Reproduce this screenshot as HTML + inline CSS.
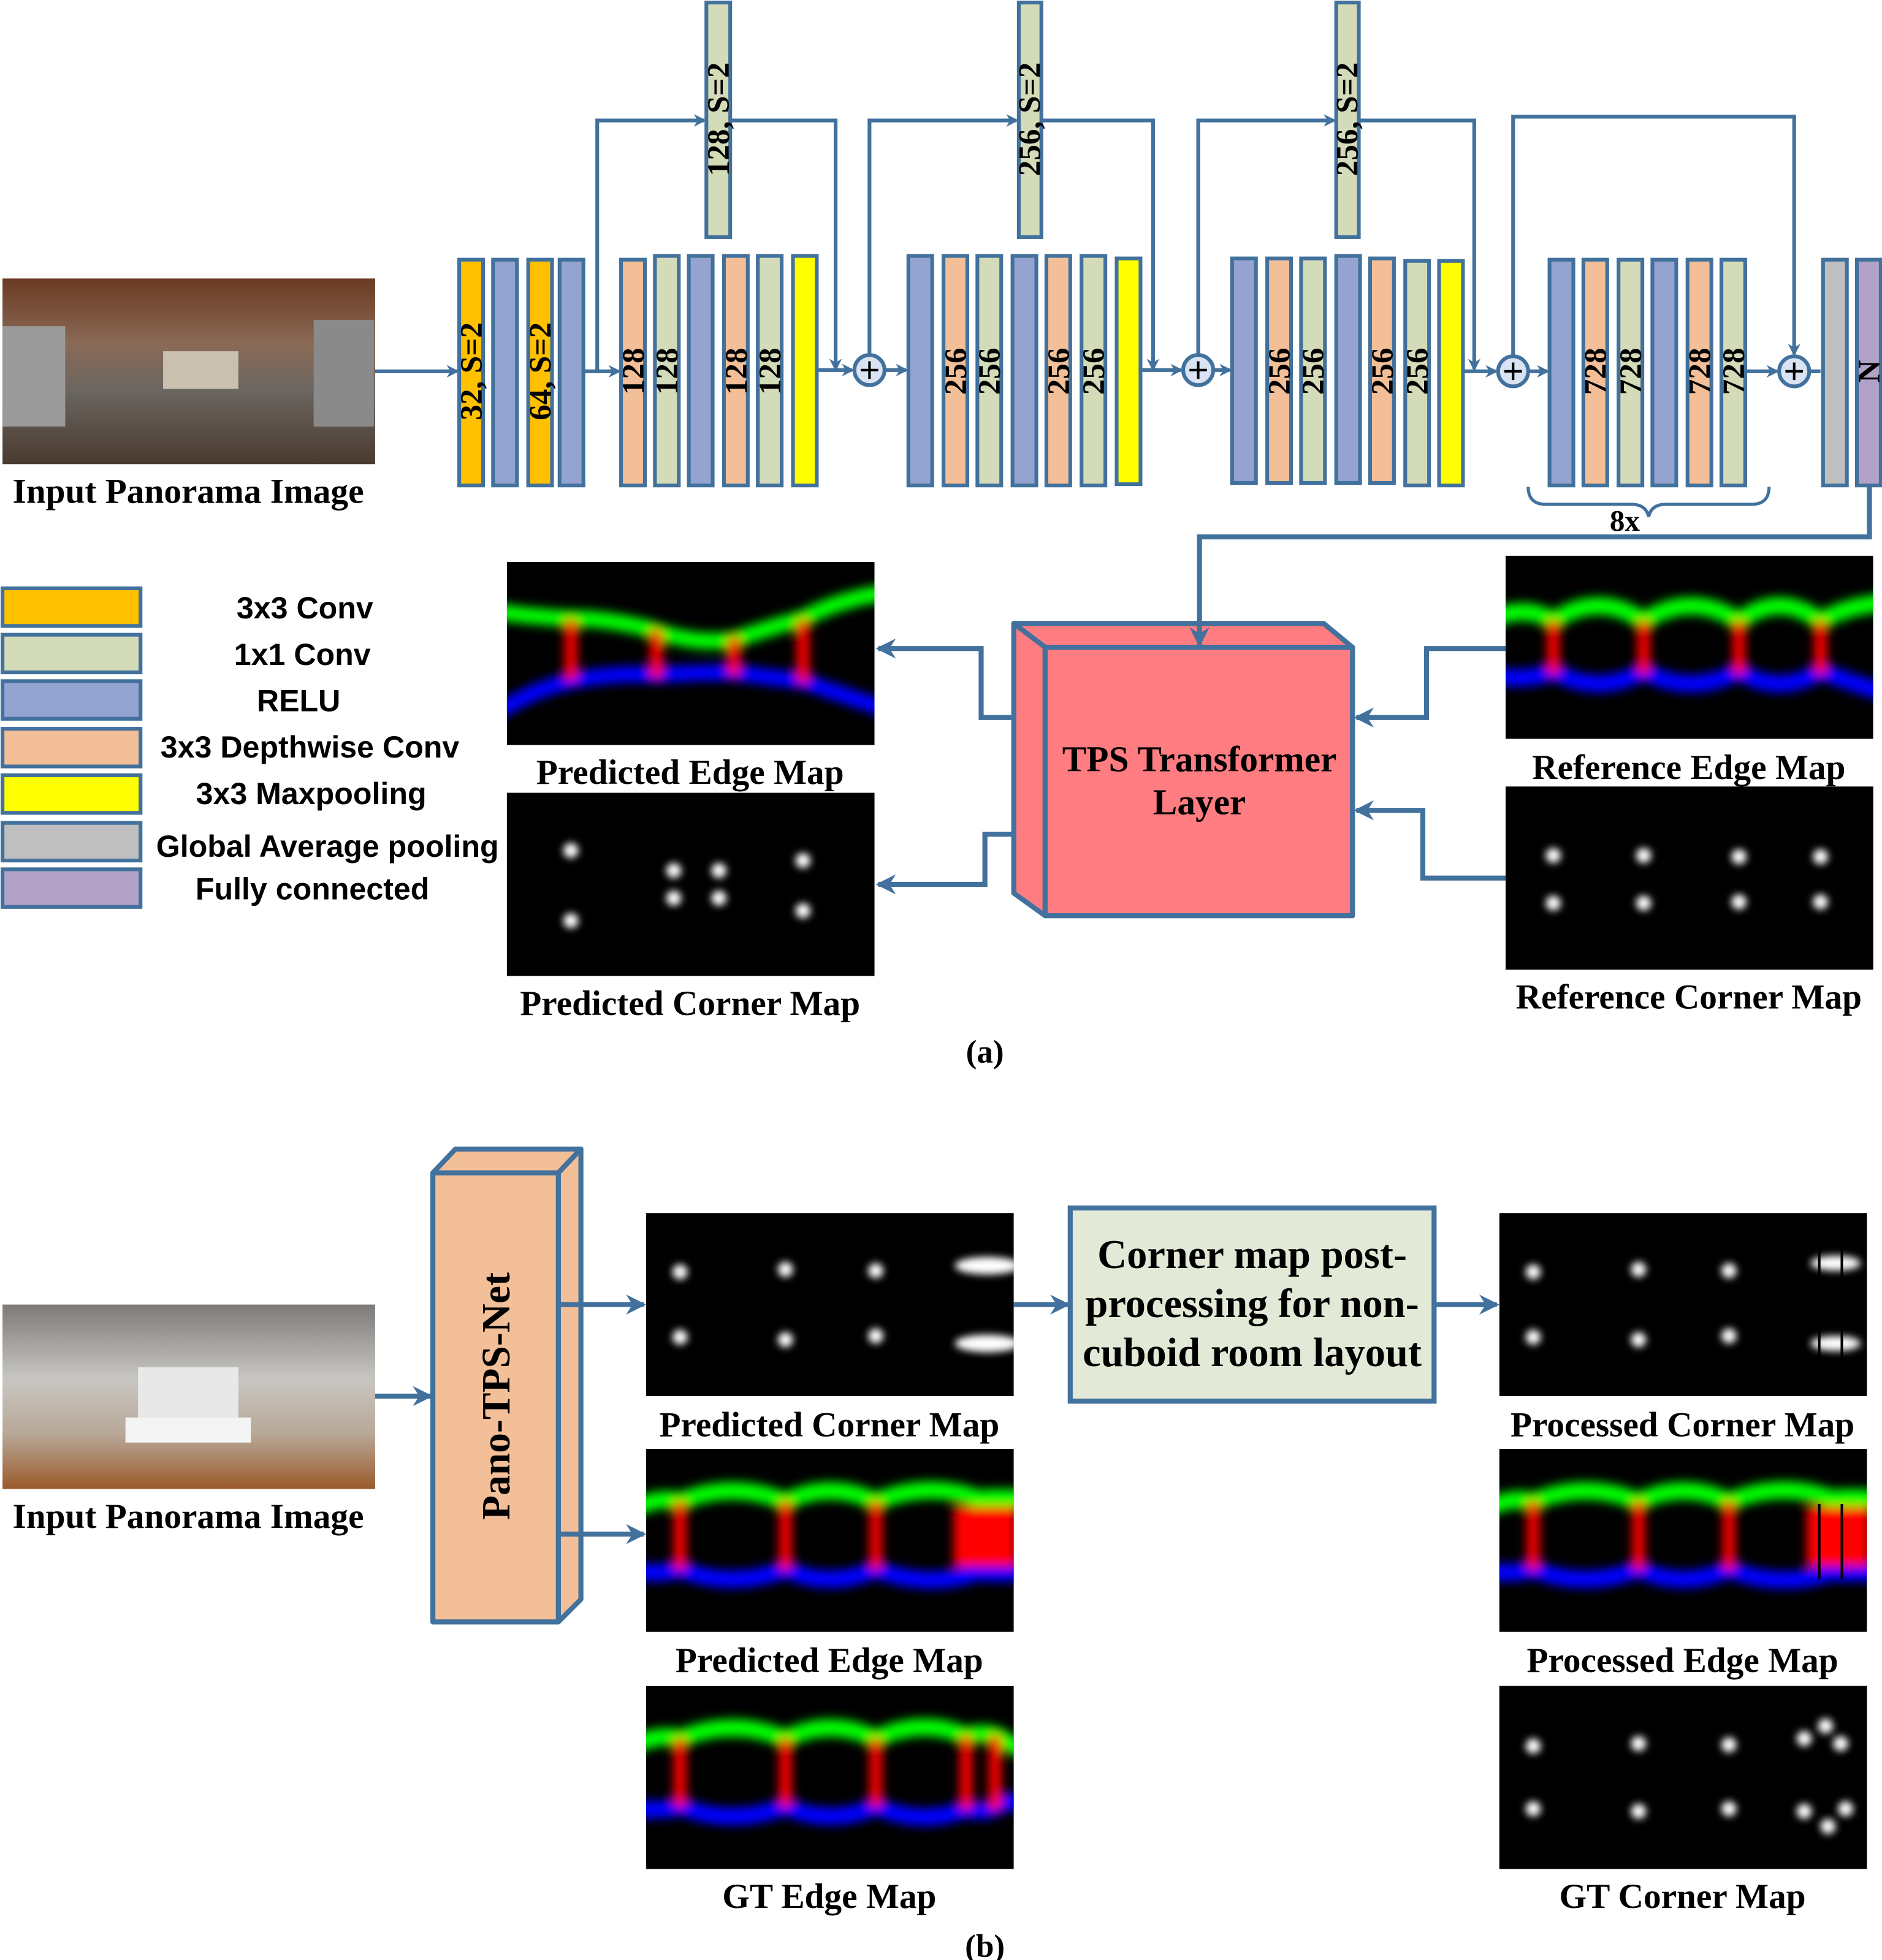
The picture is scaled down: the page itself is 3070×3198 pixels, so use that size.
<!DOCTYPE html>
<html><head><meta charset="utf-8">
<style>
html,body{margin:0;padding:0;background:#fff;}
svg{display:block;}
.st{font-family:"Liberation Serif",serif;font-weight:bold;}
.ss{font-family:"Liberation Sans",sans-serif;font-weight:bold;}
</style></head><body>
<svg width="3070" height="3198" viewBox="0 0 1500 1562.5" xmlns="http://www.w3.org/2000/svg">
<defs>
<filter id="b4" x="-20%" y="-50%" width="140%" height="200%"><feGaussianBlur stdDeviation="4"/></filter>
<filter id="b3" x="-100%" y="-100%" width="300%" height="300%"><feGaussianBlur stdDeviation="3"/></filter>
<clipPath id="ic"><rect width="293" height="146"/></clipPath>
<marker id="ah" markerWidth="10" markerHeight="10" refX="8" refY="5" orient="auto" markerUnits="userSpaceOnUse"><path d="M0,0 L10,5 L0,10 L3,5 Z" fill="#41719C"/></marker>
<marker id="ah2" markerWidth="16" markerHeight="16" refX="14" refY="8" orient="auto" markerUnits="userSpaceOnUse"><path d="M0,0 L16,8 L0,16 L5,8 Z" fill="#41719C"/></marker>
<linearGradient id="pan1" x1="0" y1="0" x2="0" y2="1"><stop offset="0" stop-color="#6a3a22"/><stop offset="0.35" stop-color="#8a6a55"/><stop offset="0.6" stop-color="#6b6660"/><stop offset="1" stop-color="#4a3a30"/></linearGradient>
<linearGradient id="pan2" x1="0" y1="0" x2="0" y2="1"><stop offset="0" stop-color="#7d7a78"/><stop offset="0.4" stop-color="#c8c6c2"/><stop offset="0.7" stop-color="#b8a898"/><stop offset="1" stop-color="#9a5a2a"/></linearGradient>
</defs>

<!-- ===== (a) ===== -->
<rect x="2" y="222" width="297" height="148" fill="url(#pan1)"/>
<rect x="2" y="260" width="50" height="80" fill="#9a9a9a"/>
<rect x="250" y="255" width="48" height="85" fill="#8a8a8a"/>
<rect x="130" y="280" width="60" height="30" fill="#c9c0b0"/>
<text class="st" x="150" y="401" font-size="28" text-anchor="middle">Input Panorama Image</text>

<g stroke="#41719C" stroke-width="3" fill="none">
<line x1="299" y1="296" x2="364" y2="296" marker-end="url(#ah)"/>
<line x1="466" y1="296" x2="493" y2="296" marker-end="url(#ah)"/>
<polyline points="476,296 476,96 561,96" marker-end="url(#ah)"/>
<polyline points="582,96 666,96 666,294" marker-end="url(#ah)"/>
<line x1="652" y1="295" x2="679" y2="295" marker-end="url(#ah)"/>
<line x1="706" y1="295" x2="722" y2="295" marker-end="url(#ah)"/>
<polyline points="693,283 693,96 810,96" marker-end="url(#ah)"/>
<polyline points="830,96 919,96 919,294" marker-end="url(#ah)"/>
<line x1="908" y1="295" x2="941" y2="295" marker-end="url(#ah)"/>
<line x1="968" y1="295" x2="980" y2="295" marker-end="url(#ah)"/>
<polyline points="955,283 955,96 1063,96" marker-end="url(#ah)"/>
<polyline points="1083,96 1175,96 1175,294" marker-end="url(#ah)"/>
<line x1="1166" y1="296" x2="1192" y2="296" marker-end="url(#ah)"/>
<line x1="1219" y1="296" x2="1233" y2="296" marker-end="url(#ah)"/>
<polyline points="1206,284 1206,93 1430,93 1430,282" marker-end="url(#ah)"/>
<line x1="1391" y1="296" x2="1416" y2="296" marker-end="url(#ah)"/>
<line x1="1443" y1="296" x2="1451" y2="296"/>
</g>

<g stroke="#41719C" stroke-width="3">
<rect x="366" y="207" width="19" height="180" fill="#FFC000"/>
<rect x="393" y="207" width="19" height="180" fill="#94A3D0"/>
<rect x="421" y="207" width="19" height="180" fill="#FFC000"/>
<rect x="446" y="207" width="19" height="180" fill="#94A3D0"/>
<rect x="495" y="207" width="19" height="180" fill="#F2BF98"/>
<rect x="522" y="204" width="19" height="183" fill="#D3DBB8"/>
<rect x="549" y="204" width="19" height="183" fill="#94A3D0"/>
<rect x="577" y="204" width="19" height="183" fill="#F2BF98"/>
<rect x="604" y="204" width="19" height="183" fill="#D3DBB8"/>
<rect x="632" y="204" width="19" height="183" fill="#FFFF00"/>
<rect x="563" y="2" width="19" height="187" fill="#D3DBB8"/>
<rect x="724" y="204" width="19" height="183" fill="#94A3D0"/>
<rect x="752" y="204" width="19" height="183" fill="#F2BF98"/>
<rect x="779" y="204" width="19" height="183" fill="#D3DBB8"/>
<rect x="807" y="204" width="19" height="183" fill="#94A3D0"/>
<rect x="834" y="204" width="19" height="183" fill="#F2BF98"/>
<rect x="862" y="204" width="19" height="183" fill="#D3DBB8"/>
<rect x="890" y="206" width="19" height="180" fill="#FFFF00"/>
<rect x="812" y="2" width="18" height="187" fill="#D3DBB8"/>
<rect x="982" y="206" width="19" height="179" fill="#94A3D0"/>
<rect x="1010" y="206" width="19" height="179" fill="#F2BF98"/>
<rect x="1037" y="206" width="19" height="179" fill="#D3DBB8"/>
<rect x="1065" y="204" width="19" height="181" fill="#94A3D0"/>
<rect x="1092" y="206" width="19" height="179" fill="#F2BF98"/>
<rect x="1120" y="208" width="19" height="179" fill="#D3DBB8"/>
<rect x="1147" y="208" width="19" height="179" fill="#FFFF00"/>
<rect x="1065" y="2" width="18" height="187" fill="#D3DBB8"/>
<rect x="1235" y="207" width="19" height="180" fill="#94A3D0"/>
<rect x="1262" y="207" width="19" height="180" fill="#F2BF98"/>
<rect x="1290" y="207" width="19" height="180" fill="#D3DBB8"/>
<rect x="1317" y="207" width="19" height="180" fill="#94A3D0"/>
<rect x="1345" y="207" width="19" height="180" fill="#F2BF98"/>
<rect x="1372" y="207" width="19" height="180" fill="#D3DBB8"/>
<rect x="1453" y="207" width="19" height="180" fill="#BFBFBF"/>
<rect x="1480" y="207" width="19" height="180" fill="#B3A2C7"/>
</g>
<g stroke="#41719C" stroke-width="3" fill="#DAE3F3">
<circle cx="693" cy="295" r="12"/><circle cx="955" cy="295" r="12"/>
<circle cx="1206" cy="296" r="12"/><circle cx="1430" cy="296" r="12"/>
</g>
<g stroke="#000" stroke-width="2">
<path d="M686,295h14M693,288v14"/><path d="M948,295h14M955,288v14"/>
<path d="M1199,296h14M1206,289v14"/><path d="M1423,296h14M1430,289v14"/>
</g>

<g class="st" font-size="25" text-anchor="middle">
<text transform="translate(384,296) rotate(-90)">32, S=2</text>
<text transform="translate(439,296) rotate(-90)">64, S=2</text>
<text transform="translate(581,95) rotate(-90)">128, S=2</text>
<text transform="translate(829,95) rotate(-90)">256, S=2</text>
<text transform="translate(1082,95) rotate(-90)">256, S=2</text>
<text transform="translate(513,296) rotate(-90)">128</text>
<text transform="translate(540,296) rotate(-90)">128</text>
<text transform="translate(595,296) rotate(-90)">128</text>
<text transform="translate(622,296) rotate(-90)">128</text>
<text transform="translate(770,296) rotate(-90)">256</text>
<text transform="translate(797,296) rotate(-90)">256</text>
<text transform="translate(852,296) rotate(-90)">256</text>
<text transform="translate(880,296) rotate(-90)">256</text>
<text transform="translate(1028,296) rotate(-90)">256</text>
<text transform="translate(1055,296) rotate(-90)">256</text>
<text transform="translate(1110,296) rotate(-90)">256</text>
<text transform="translate(1138,296) rotate(-90)">256</text>
<text transform="translate(1280,296) rotate(-90)">728</text>
<text transform="translate(1308,296) rotate(-90)">728</text>
<text transform="translate(1363,296) rotate(-90)">728</text>
<text transform="translate(1390,296) rotate(-90)">728</text>
<text transform="translate(1498,296) rotate(-90)">N</text>
</g>
<path d="M1218,388 Q1218,402 1232,402 L1300,402 Q1312,402 1314,412 Q1316,402 1328,402 L1396,402 Q1410,402 1410,388" stroke="#41719C" stroke-width="2.5" fill="none"/>
<text class="st" x="1295" y="423" font-size="24" text-anchor="middle">8x</text>

<g stroke="#41719C" stroke-width="3">
<rect x="2" y="469" width="110" height="30" fill="#FFC000"/>
<rect x="2" y="506" width="110" height="30" fill="#D3DBB8"/>
<rect x="2" y="543" width="110" height="30" fill="#94A3D0"/>
<rect x="2" y="581" width="110" height="30" fill="#F2BF98"/>
<rect x="2" y="618" width="110" height="30" fill="#FFFF00"/>
<rect x="2" y="656" width="110" height="30" fill="#BFBFBF"/>
<rect x="2" y="693" width="110" height="30" fill="#B3A2C7"/>
</g>
<g class="ss" font-size="24.5" text-anchor="middle">
<text x="243" y="493">3x3 Conv</text>
<text x="241" y="530">1x1 Conv</text>
<text x="238" y="567">RELU</text>
<text x="247" y="604">3x3 Depthwise Conv</text>
<text x="248" y="641">3x3 Maxpooling</text>
<text x="261" y="683">Global Average pooling</text>
<text x="249" y="717">Fully connected</text>
</g>

<g transform="translate(404,448)" clip-path="url(#ic)">
<rect width="293" height="146" fill="#000"/>
<g filter="url(#b4)" fill="none" stroke-linecap="round">
<path d="M-5,40 Q25,44 51,45 Q85,45 119,55 Q150,66 181,62 Q210,52 236,45 Q265,30 298,25" stroke="#00ff00" stroke-width="13"/>
<path d="M-5,118 Q25,100 51,95 Q85,88 119,90 Q150,88 181,88 Q210,92 236,95 Q265,105 298,116" stroke="#0000ff" stroke-width="13"/>
<path d="M51,50V90M119,58V88M181,64V86M236,50V92" stroke="#ff0000" stroke-width="10"/>
</g></g>
<text class="st" x="550" y="625" font-size="28" text-anchor="middle">Predicted Edge Map</text>

<g transform="translate(404,632)">
<rect width="293" height="146" fill="#000"/>
<g fill="#fff" filter="url(#b3)">
<circle cx="51" cy="46" r="6"/><circle cx="51" cy="102" r="6"/>
<circle cx="133" cy="62" r="6"/><circle cx="133" cy="84" r="6"/>
<circle cx="169" cy="62" r="6"/><circle cx="169" cy="84" r="6"/>
<circle cx="236" cy="54" r="6"/><circle cx="236" cy="94" r="6"/>
</g></g>
<text class="st" x="550" y="809" font-size="28" text-anchor="middle">Predicted Corner Map</text>

<g stroke="#41719C" stroke-width="4" fill="#FF7C80" stroke-linejoin="round">
<path d="M808,497 L1055,497 L1078,516 L833,516 Z"/>
<path d="M808,497 L833,516 L833,730 L808,712 Z"/>
<rect x="833" y="516" width="245" height="214"/>
</g>
<text class="st" x="956" y="615" font-size="29" text-anchor="middle">TPS Transformer</text>
<text class="st" x="956" y="649" font-size="29" text-anchor="middle">Layer</text>

<g stroke="#41719C" stroke-width="4" fill="none">
<polyline points="1490,388 1490,428 956,428 956,514" marker-end="url(#ah2)"/>
<polyline points="806,572 782,572 782,517 700,517" marker-end="url(#ah2)"/>
<polyline points="808,665 785,665 785,705 700,705" marker-end="url(#ah2)"/>
<polyline points="1200,517 1137,517 1137,572 1081,572" marker-end="url(#ah2)"/>
<polyline points="1200,700 1134,700 1134,646 1081,646" marker-end="url(#ah2)"/>
</g>

<g transform="translate(1200,443)" clip-path="url(#ic)">
<rect width="293" height="146" fill="#000"/>
<g filter="url(#b4)" fill="none" stroke-linecap="round">
<path d="M-5,48 Q19,40 38,52 Q74,28 110,52 Q148,28 186,52 Q218,28 251,52 Q272,40 298,38" stroke="#00ff00" stroke-width="14"/>
<path d="M-5,96 Q19,100 38,92 Q74,112 110,92 Q148,112 186,92 Q218,112 251,92 Q272,100 298,108" stroke="#0000ff" stroke-width="14"/>
<path d="M38,56V90M110,56V90M186,56V90M251,56V90" stroke="#ff0000" stroke-width="10"/>
</g></g>
<text class="st" x="1346" y="621" font-size="28" text-anchor="middle">Reference Edge Map</text>
<g transform="translate(1200,627)">
<rect width="293" height="146" fill="#000"/>
<g fill="#fff" filter="url(#b3)">
<circle cx="38" cy="55" r="6"/><circle cx="110" cy="55" r="6"/><circle cx="186" cy="56" r="6"/><circle cx="251" cy="56" r="6"/>
<circle cx="38" cy="93" r="6"/><circle cx="110" cy="93" r="6"/><circle cx="186" cy="92" r="6"/><circle cx="251" cy="92" r="6"/>
</g></g>
<text class="st" x="1346" y="804" font-size="28" text-anchor="middle">Reference Corner Map</text>

<text class="st" x="785" y="847" font-size="26" text-anchor="middle">(a)</text>

<!-- ===== (b) ===== -->
<rect x="2" y="1040" width="297" height="147" fill="url(#pan2)"/>
<rect x="110" y="1090" width="80" height="40" fill="#e8e8e8"/>
<rect x="100" y="1130" width="100" height="20" fill="#f4f4f4"/>
<text class="st" x="150" y="1218" font-size="28" text-anchor="middle">Input Panorama Image</text>

<g stroke="#41719C" stroke-width="4" stroke-linejoin="round">
<path d="M345,935 L363,916 L463,916 L445,935 Z" fill="#F2BF98"/>
<path d="M445,935 L463,916 L463,1275 L445,1293 Z" fill="#F2BF98"/>
<rect x="345" y="935" width="100" height="358" fill="#F2BF98"/>
</g>
<text class="st" transform="translate(406,1113) rotate(-90)" font-size="32" text-anchor="middle">Pano-TPS-Net</text>

<g stroke="#41719C" stroke-width="4" fill="none">
<line x1="299" y1="1113" x2="343" y2="1113" marker-end="url(#ah2)"/>
<line x1="447" y1="1040" x2="513" y2="1040" marker-end="url(#ah2)"/>
<line x1="447" y1="1223" x2="513" y2="1223" marker-end="url(#ah2)"/>
<line x1="808" y1="1040" x2="851" y2="1040" marker-end="url(#ah2)"/>
<line x1="1143" y1="1040" x2="1193" y2="1040" marker-end="url(#ah2)"/>
</g>

<g transform="translate(515,967)" clip-path="url(#ic)">
<rect width="293" height="146" fill="#000"/>
<g fill="#fff" filter="url(#b3)">
<circle cx="27" cy="47" r="6"/><circle cx="111" cy="45" r="6"/><circle cx="183" cy="46" r="6"/>
<circle cx="27" cy="99" r="6"/><circle cx="111" cy="101" r="6"/><circle cx="183" cy="98" r="6"/>
<ellipse cx="272" cy="42" rx="26" ry="7"/><ellipse cx="272" cy="104" rx="26" ry="7"/>
</g></g>
<text class="st" x="661" y="1145" font-size="28" text-anchor="middle">Predicted Corner Map</text>

<g transform="translate(515,1155)" clip-path="url(#ic)">
<rect width="293" height="146" fill="#000"/>
<g filter="url(#b4)" fill="none" stroke-linecap="round">
<path d="M-5,45 Q14,38 27,42 Q69,25 111,42 Q147,25 183,42 Q225,25 265,40 Q280,38 298,40" stroke="#00ff00" stroke-width="14"/>
<path d="M-5,98 Q14,100 27,96 Q69,112 111,96 Q147,112 183,96 Q225,112 265,98 Q280,100 298,98" stroke="#0000ff" stroke-width="14"/>
<path d="M27,46V92M111,46V92M183,46V92" stroke="#ff0000" stroke-width="10"/>
<rect x="245" y="46" width="50" height="48" fill="#ff0000"/>
</g></g>
<text class="st" x="661" y="1333" font-size="28" text-anchor="middle">Predicted Edge Map</text>

<g transform="translate(515,1344)" clip-path="url(#ic)">
<rect width="293" height="146" fill="#000"/>
<g filter="url(#b4)" fill="none" stroke-linecap="round">
<path d="M-5,45 Q14,38 27,42 Q69,25 111,42 Q147,25 183,42 Q220,25 255,40 Q268,36 280,40 Q286,44 298,50" stroke="#00ff00" stroke-width="14"/>
<path d="M-5,98 Q14,100 27,96 Q69,112 111,96 Q147,112 183,96 Q220,112 255,98 Q268,102 280,96 Q286,92 298,92" stroke="#0000ff" stroke-width="14"/>
<path d="M27,46V92M111,46V92M183,46V92M255,44V94M278,44V94" stroke="#ff0000" stroke-width="10"/>
</g></g>
<text class="st" x="661" y="1521" font-size="28" text-anchor="middle">GT Edge Map</text>

<rect x="853" y="963" width="290" height="154" fill="#E2E9D6" stroke="#41719C" stroke-width="4"/>
<g class="st" font-size="32.5" text-anchor="middle">
<text x="998" y="1011">Corner map post-</text>
<text x="998" y="1050">processing for non-</text>
<text x="998" y="1089">cuboid room layout</text>
</g>

<g transform="translate(1195,967)" clip-path="url(#ic)">
<rect width="293" height="146" fill="#000"/>
<g fill="#fff" filter="url(#b3)">
<circle cx="27" cy="47" r="6"/><circle cx="111" cy="45" r="6"/><circle cx="183" cy="46" r="6"/>
<circle cx="27" cy="99" r="6"/><circle cx="111" cy="101" r="6"/><circle cx="183" cy="98" r="6"/>
<ellipse cx="268" cy="40" rx="20" ry="6"/><ellipse cx="268" cy="104" rx="20" ry="6"/>
</g>
<path d="M255,28V118M273,28V118" stroke="#000" stroke-width="2"/>
</g>
<text class="st" x="1341" y="1145" font-size="28" text-anchor="middle">Processed Corner Map</text>

<g transform="translate(1195,1155)" clip-path="url(#ic)">
<rect width="293" height="146" fill="#000"/>
<g filter="url(#b4)" fill="none" stroke-linecap="round">
<path d="M-5,45 Q14,38 27,42 Q69,25 111,42 Q147,25 183,42 Q225,25 265,40 Q280,38 298,40" stroke="#00ff00" stroke-width="14"/>
<path d="M-5,98 Q14,100 27,96 Q69,112 111,96 Q147,112 183,96 Q225,112 265,98 Q280,100 298,98" stroke="#0000ff" stroke-width="14"/>
<path d="M27,46V92M111,46V92M183,46V92" stroke="#ff0000" stroke-width="10"/>
<rect x="245" y="46" width="50" height="48" fill="#ff0000"/>
</g>
<path d="M255,44V104M273,44V104" stroke="#000" stroke-width="2"/>
</g>
<text class="st" x="1341" y="1333" font-size="28" text-anchor="middle">Processed Edge Map</text>

<g transform="translate(1195,1344)">
<rect width="293" height="146" fill="#000"/>
<g fill="#fff" filter="url(#b3)">
<circle cx="27" cy="48" r="6"/><circle cx="111" cy="46" r="6"/><circle cx="183" cy="47" r="6"/>
<circle cx="27" cy="98" r="6"/><circle cx="111" cy="100" r="6"/><circle cx="183" cy="98" r="6"/>
<circle cx="243" cy="42" r="6"/><circle cx="260" cy="32" r="6"/><circle cx="272" cy="46" r="6"/>
<circle cx="243" cy="100" r="6"/><circle cx="262" cy="112" r="6"/><circle cx="276" cy="98" r="6"/>
</g></g>
<text class="st" x="1341" y="1521" font-size="28" text-anchor="middle">GT Corner Map</text>

<text class="st" x="785" y="1560" font-size="26" text-anchor="middle">(b)</text>
</svg>
</body></html>
